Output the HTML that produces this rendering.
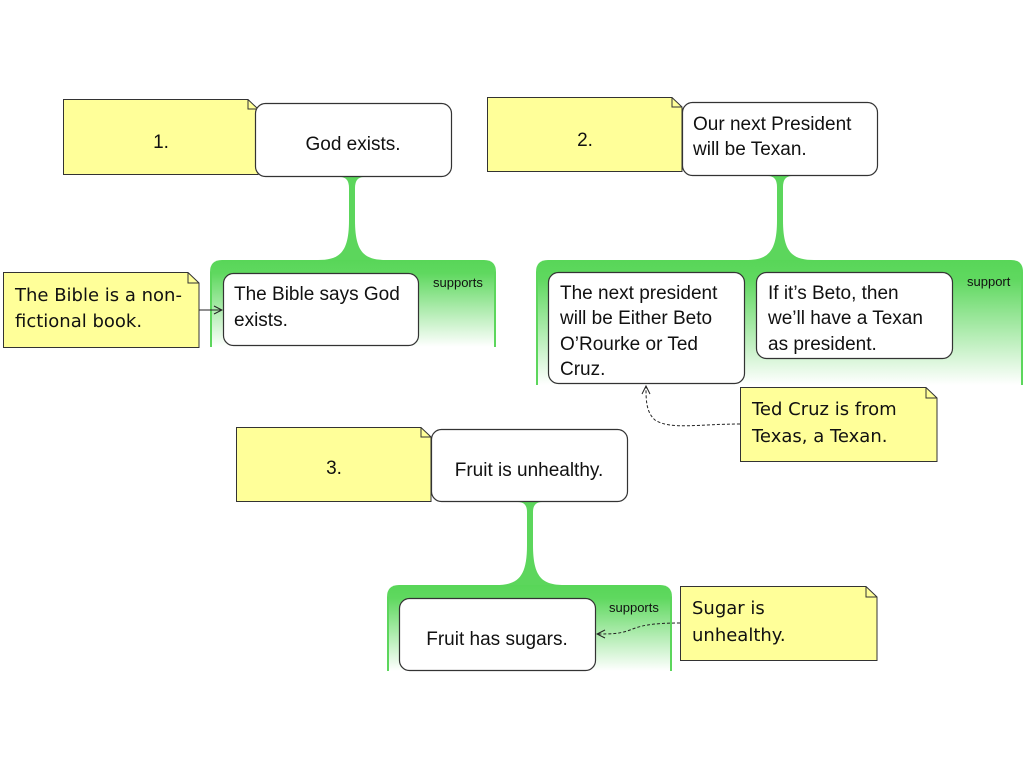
<!DOCTYPE html>
<html><head><meta charset="utf-8"><style>
html,body{margin:0;padding:0;background:#fff;width:1024px;height:768px;overflow:hidden}
svg text{font-family:"Liberation Sans",sans-serif;fill:#111}
.n{font-family:"DejaVu Sans","Liberation Sans",sans-serif;font-size:18px}
.b{font-size:19px}
.s{font-size:13px}
</style></head><body>
<svg width="1024" height="768" viewBox="0 0 1024 768" xmlns="http://www.w3.org/2000/svg">
<defs>
<linearGradient id="g" x1="0" y1="0" x2="0" y2="1">
<stop offset="0" stop-color="#58d658"/><stop offset="0.15" stop-color="#5fd85f"/><stop offset="1" stop-color="#ffffff"/>
</linearGradient>
<marker id="ar" markerWidth="10" markerHeight="10" refX="9" refY="5" orient="auto" markerUnits="userSpaceOnUse">
<path d="M1,1 L9,5 L1,9" fill="none" stroke="#222" stroke-width="1"/></marker>
</defs>

<path d="M210,347 L210,272 Q210,260 222,260 L484,260 Q496,260 496,272 L496,347 Z" fill="url(#g)"/>
<path d="M536,385 L536,272 Q536,260 548,260 L1011,260 Q1023,260 1023,272 L1023,385 Z" fill="url(#g)"/>
<path d="M387,671 L387,597 Q387,585 399,585 L660,585 Q672,585 672,597 L672,671 Z" fill="url(#g)"/>
<g stroke="#5cd65c" stroke-width="2">
<line x1="211" y1="272" x2="211" y2="347"/><line x1="495" y1="272" x2="495" y2="347"/>
<line x1="537" y1="272" x2="537" y2="385"/><line x1="1022" y1="272" x2="1022" y2="385"/>
<line x1="388" y1="597" x2="388" y2="671"/><line x1="671" y1="597" x2="671" y2="671"/>
</g>

<g fill="#5cd65c">
<path d="M340,177 Q349,177 349,188 L349,220 C349,252 340,260 318,260 L386,260 C364,260 355,252 355,220 L355,188 Q355,177 364,177 Z"/>
<path d="M768,176 Q777,176 777,187 L777,220 C777,252 768,260 746,260 L814,260 C792,260 783,252 783,220 L783,187 Q783,176 792,176 Z"/>
<path d="M518,502 Q527,502 527,512 L527,545 C527,577 518,585 496,585 L564,585 C542,585 533,577 533,545 L533,512 Q533,502 542,502 Z"/>
</g>

<g fill="#ffff99" stroke="#333" stroke-width="1">
<path d="M63.5,99.5 L248,99.5 L258,109 L258,174.5 L63.5,174.5 Z"/>
<path d="M487.5,97.5 L672,97.5 L682,107 L682,171.5 L487.5,171.5 Z"/>
<path d="M236.5,427.5 L421,427.5 L431,437 L431,501.5 L236.5,501.5 Z"/>
<path d="M3.5,272.5 L188,272.5 L199,283 L199,347.5 L3.5,347.5 Z"/>
<path d="M740.5,387.5 L926,387.5 L937,398 L937,461.5 L740.5,461.5 Z"/>
<path d="M680.5,586.5 L866,586.5 L877,597 L877,660.5 L680.5,660.5 Z"/>
</g>
<g fill="none" stroke="#333" stroke-width="1">
<path d="M248,99.5 L248,109 L258,109"/><path d="M672,97.5 L672,107 L682,107"/>
<path d="M421,427.5 L421,437 L431,437"/><path d="M188,272.5 L188,283 L199,283"/>
<path d="M926,387.5 L926,398 L937,398"/><path d="M866,586.5 L866,597 L877,597"/>
</g>

<g fill="#fff" stroke="#333" stroke-width="1.2">
<rect x="255.5" y="103.5" width="196" height="73" rx="10"/>
<rect x="682.5" y="102.5" width="195" height="73" rx="10"/>
<rect x="431.5" y="429.5" width="196" height="72" rx="10"/>
<rect x="223.5" y="273.5" width="195" height="72" rx="10"/>
<rect x="548.5" y="272.5" width="196" height="111" rx="10"/>
<rect x="756.5" y="272.5" width="196" height="86" rx="10"/>
<rect x="399.5" y="598.5" width="196" height="72" rx="10"/>
</g>

<line x1="199" y1="310" x2="222" y2="310" stroke="#222" stroke-width="1" marker-end="url(#ar)"/>
<path d="M740,424 C700,424 670,430 655,420 C646,412 646,400 646,386" fill="none" stroke="#222" stroke-width="1" stroke-dasharray="3,2" marker-end="url(#ar)"/>
<path d="M680,623 C650,623 640,626 630,630 C620,634 610,634 597,634" fill="none" stroke="#222" stroke-width="1" stroke-dasharray="3,2" marker-end="url(#ar)"/>

<text class="b" x="161" y="148" text-anchor="middle">1.</text>
<text class="b" x="585" y="146" text-anchor="middle">2.</text>
<text class="b" x="334" y="474" text-anchor="middle">3.</text>
<text class="b" x="353" y="150" text-anchor="middle">God exists.</text>
<text class="b" x="693" y="130">Our next President</text>
<text class="b" x="693" y="155">will be Texan.</text>
<text class="b" x="529" y="476" text-anchor="middle">Fruit is unhealthy.</text>
<text class="b" x="234" y="300">The Bible says God</text>
<text class="b" x="234" y="326">exists.</text>
<text class="b" x="560" y="299">The next president</text>
<text class="b" x="560" y="324">will be Either Beto</text>
<text class="b" x="560" y="350">O’Rourke or Ted</text>
<text class="b" x="560" y="375">Cruz.</text>
<text class="b" x="768" y="299">If it’s Beto, then</text>
<text class="b" x="768" y="324">we’ll have a Texan</text>
<text class="b" x="768" y="350">as president.</text>
<text class="b" x="497" y="645" text-anchor="middle">Fruit has sugars.</text>
<text class="s" x="433" y="287">supports</text>
<text class="s" x="967" y="286">support</text>
<text class="s" x="609" y="612">supports</text>
<text class="n" x="15" y="301">The Bible is a non-</text>
<text class="n" x="15" y="327">fictional book.</text>
<text class="n" x="752" y="415">Ted Cruz is from</text>
<text class="n" x="752" y="442">Texas, a Texan.</text>
<text class="n" x="692" y="614">Sugar is</text>
<text class="n" x="692" y="641">unhealthy.</text>
</svg>
</body></html>
